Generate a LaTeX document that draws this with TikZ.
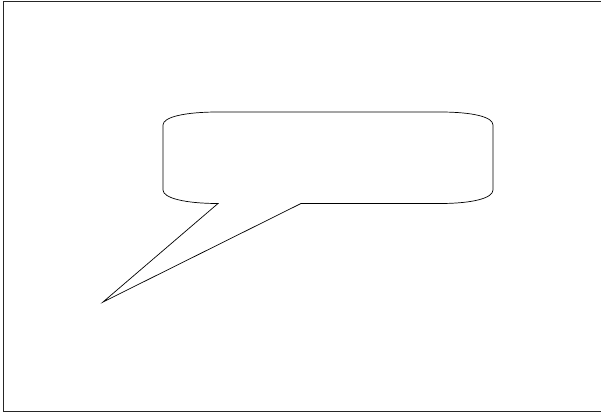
\documentclass[tikz,border=0pt]{standalone}
\begin{document}
\begin{tikzpicture}[x=1pt,y=-1pt,line join=miter,
  outline/.style={draw=black,line width=0.7pt}]
\useasboundingbox (0,0) rectangle (601,417);
% frame
\draw[line width=0.8pt,draw=black!85] (604,1.5) -- (3.5,1.5) -- (3.5,411.5) -- (604,411.5);
% callout
\coordinate (tip) at (103,302);
\coordinate (bl) at (218,203.5);
\coordinate (br) at (301,203.5);
\draw[outline]
  (163,125) .. controls (163,117) and (185,112) .. (218,112)
  -- (440,112) .. controls (473,112) and (493,117) .. (493,125)
  -- (493,190) .. controls (493,198) and (473,203.5) .. (440,203.5)
  -- (br) -- (tip) -- (bl)
  .. controls (185,203.5) and (163,198) .. (163,190) -- cycle;
\end{tikzpicture}
\end{document}
